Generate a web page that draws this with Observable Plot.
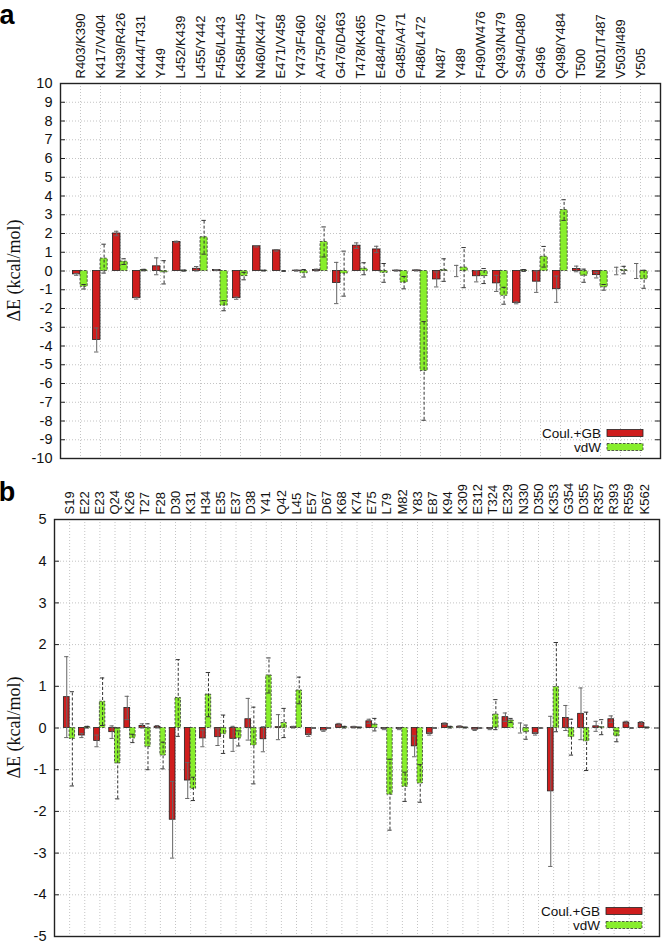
<!DOCTYPE html>
<html>
<head>
<meta charset="utf-8">
<script src="https://cdn.jsdelivr.net/npm/d3@7"></script>
<script src="https://cdn.jsdelivr.net/npm/@observablehq/plot@0.6"></script>
<style>
  html, body { margin: 0; padding: 0; background: #fff; }
  #chart svg { display: block; }
</style>
</head>
<body>
<div id="chart"></div>
<script>
// ---- Panel a data ----
const namesA = ["R403/K390","K417/V404","N439/R426","K444/T431","Y449","L452/K439","L455/Y442","F456/L443","K458/H445","N460/K447","E471/V458","Y473/F460","A475/P462","G476/D463","T478/K465","E484/P470","G485/A471","F486/L472","N487","Y489","F490/W476","Q493/N479","S494/D480","G496","Q498/Y484","T500","N501/T487","V503/I489","Y505"];
const coulA    = [-0.18,-3.68,2.0,-1.45,0.25,1.55,0.12,0.05,-1.45,1.32,1.1,0.02,0.05,-0.64,1.35,1.15,0.02,0.03,-0.45,0.0,-0.28,-0.66,-1.7,-0.57,-0.97,0.11,-0.22,0.0,0.0];
const coulErrA = [0.05,0.64,0.12,0.05,0.45,0.04,0.12,0.03,0.06,0.04,0.04,0.03,0.05,1.1,0.15,0.17,0.03,0.03,0.4,0.3,0.3,0.43,0.05,0.57,0.7,0.15,0.15,0.2,0.4];
const vdwA     = [-0.84,0.66,0.5,0.05,-0.07,0.02,1.8,-1.85,-0.27,0.02,0.0,-0.12,1.55,-0.14,0.12,-0.1,-0.62,-5.33,0.05,0.18,-0.27,-1.32,0.03,0.76,3.25,-0.25,-0.87,0.05,-0.44];
const vdwErrA  = [0.12,0.77,0.15,0.04,0.62,0.03,0.9,0.27,0.2,0.02,0.02,0.2,0.8,1.2,0.32,0.5,0.33,2.63,0.6,1.07,0.4,0.45,0.05,0.55,0.55,0.35,0.15,0.2,0.48];

// ---- Panel b data ----
const namesB = ["S19","E22","E23","Q24","K26","T27","F28","D30","K31","H34","E35","E37","D38","Y41","Q42","L45","E57","D67","K68","K74","E75","L79","M82","Y83","E87","K94","K309","E312","T324","E329","N330","D350","K353","G354","D355","R357","R393","R559","K562"];
const coulB    = [0.74,-0.18,-0.31,-0.1,0.48,0.05,0.03,-2.2,-1.26,-0.25,-0.22,-0.26,0.21,-0.27,0.02,0.02,-0.17,-0.06,0.08,0.02,0.16,-0.02,-0.02,-0.44,-0.14,0.1,0.03,-0.04,-0.02,0.26,0.0,-0.14,-1.52,0.24,0.34,0.04,0.21,0.13,0.12];
const coulErrB = [0.97,0.05,0.14,0.15,0.28,0.05,0.03,0.92,0.43,0.2,0.2,0.3,0.5,0.3,0.3,0.02,0.03,0.02,0.03,0.02,0.05,0.02,0.02,0.25,0.03,0.02,0.02,0.02,0.02,0.1,0.12,0.03,1.8,0.3,0.62,0.12,0.08,0.03,0.03];
const vdwB     = [-0.26,0.02,0.63,-0.85,-0.25,-0.45,-0.66,0.72,-1.46,0.8,-0.15,-0.25,-0.42,1.26,0.12,0.9,0,0,0.02,0.01,0.08,-1.6,-1.41,-1.33,0,0.02,0.01,0,0.32,0.18,-0.1,0,0.98,-0.22,-0.32,0.02,-0.2,0,0.01];
const vdwErrB  = [1.13,0.02,0.57,0.85,0.1,0.55,0.32,0.92,0.28,0.53,0.46,0.18,0.92,0.42,0.35,0.32,0,0,0.02,0.01,0.15,0.85,0.35,0.45,0,0.02,0.01,0,0.36,0.05,0.17,0,1.07,0.43,0.7,0.18,0.13,0,0.01];

const seriesNames = ["Coul.+GB", "vdW"];
const RED = "#cf1d1d", GREEN = "#88ee2c";

function panel(cfg) {
  const {names, coul, coulErr, vdw, vdwErr, yMax, xDomain, height, marginTop, marginBottom, marginLeft, marginRight, letter, letterY, capHalf, tickLen} = cfg;
  const rows = names.map((n, i) => ({i, n, c: coul[i], ce: coulErr[i], v: vdw[i], ve: vdwErr[i]}));
  const yt = d3.range(-yMax, yMax + 1);
  const wR = 0.38, wG = 0.36;
  const cx = d => d.i - wR / 2, vx = d => d.i + wG / 2;
  const ends = rows.flatMap(d => [
    {x: cx(d), y: d.c - d.ce, s: 0}, {x: cx(d), y: d.c + d.ce, s: 0},
    {x: vx(d), y: d.v - d.ve, s: 1}, {x: vx(d), y: d.v + d.ve, s: 1}
  ]);
  const [x0, x1] = xDomain;
  const svg = Plot.plot({
    width: 664, height, marginTop, marginBottom, marginLeft, marginRight,
    x: {domain: xDomain, axis: null},
    y: {domain: [-yMax, yMax], axis: null},
    style: {fontFamily: "'Liberation Sans', Arial, sans-serif", overflow: "visible", background: "white", color: "#111"},
    marks: [
      Plot.gridY(yt.slice(1, -1), {stroke: "#c4c4c4", strokeOpacity: 1, strokeDasharray: "1,2"}),
      Plot.gridX(rows.map(d => d.i), {stroke: "#c4c4c4", strokeOpacity: 1, strokeDasharray: "1,2"}),
      Plot.rect(rows, {x1: d => d.i - wR, x2: d => d.i, y1: 0, y2: "c", fill: RED, stroke: "#222", strokeWidth: 0.8}),
      Plot.rect(rows, {x1: d => d.i, x2: d => d.i + wG, y1: 0, y2: "v", fill: GREEN, stroke: "#333", strokeWidth: 0.8, strokeDasharray: "2.5,1.5"}),
      Plot.ruleX(rows, {x: cx, y1: d => d.c - d.ce, y2: d => d.c + d.ce, stroke: "#666", strokeWidth: 1}),
      Plot.ruleX(rows, {x: vx, y1: d => d.v - d.ve, y2: d => d.v + d.ve, stroke: "#333", strokeWidth: 1, strokeDasharray: "3,2"}),
      Plot.ruleY(ends, {y: "y", x1: d => d.x - capHalf, x2: d => d.x + capHalf, stroke: d => d.s ? "#333" : "#666", strokeWidth: 1}),
      Plot.ruleY(yt.slice(1, -1), {y: d => d, x1: x0, x2: x0 + tickLen, stroke: "#222"}),
      Plot.ruleY(yt.slice(1, -1), {y: d => d, x1: x1 - tickLen, x2: x1, stroke: "#222"}),
      Plot.frame({stroke: "#222", strokeWidth: 1.4}),
      Plot.axisY(yt, {anchor: "left", tickSize: 0, tickPadding: 8, fontSize: 14.5, tickFormat: d => String(d)}),
      Plot.axisX(rows.map(d => d.i), {anchor: "top", tickSize: 0, tickPadding: 5, tickRotate: -90, fontSize: 13, tickFormat: i => names[i]})
    ]
  });
  const s = d3.select(svg);
  const H = height, fb = H - marginBottom, ft = marginTop, fr = 664 - marginRight;
  // y label
  s.append("text")
    .attr("transform", `translate(20,${(ft + fb) / 2}) rotate(-90)`)
    .attr("text-anchor", "middle")
    .attr("font-family", "'Liberation Serif', 'Times New Roman', serif")
    .attr("font-size", 18).attr("fill", "#111")
    .text("ΔE (kcal/mol)");
  // panel letter
  s.append("text").attr("x", 7).attr("y", letterY)
    .attr("font-family", "'Liberation Sans', Arial, sans-serif")
    .attr("font-weight", "bold").attr("font-size", 27).attr("fill", "#000")
    .text(letter);
  // legend
  const lg = s.append("g").attr("font-family", "'Liberation Sans', Arial, sans-serif").attr("font-size", 13.5).attr("fill", "#111");
  const rowsY = [fb - 25, fb - 11];
  seriesNames.forEach((name, k) => {
    lg.append("text").attr("x", fr - 59).attr("y", rowsY[k]).attr("dy", "0.35em").attr("text-anchor", "end").text(name);
    lg.append("rect").attr("x", fr - 53).attr("y", rowsY[k] - 3.5).attr("width", 36).attr("height", 7)
      .attr("fill", k ? GREEN : RED).attr("stroke", k ? "#333" : "#222").attr("stroke-width", 0.8)
      .attr("stroke-dasharray", k ? "2.5,1.5" : null);
  });
  return svg;
}

const root = document.getElementById("chart");
root.append(panel({
  names: namesA, coul: coulA, coulErr: coulErrA, vdw: vdwA, vdwErr: vdwErrA,
  yMax: 10, xDomain: [-1, 29], height: 462, marginTop: 83, marginBottom: 4, marginLeft: 60, marginRight: 4,
  letter: "a", letterY: 24, capHalf: 0.11, tickLen: 0.25
}));
root.append(panel({
  names: namesB, coul: coulB, coulErr: coulErrB, vdw: vdwB, vdwErr: vdwErrB,
  yMax: 5, xDomain: [-1, 39], height: 481, marginTop: 57, marginBottom: 7, marginLeft: 54, marginRight: 5,
  letter: "b", letterY: 39, capHalf: 0.14, tickLen: 0.33
}));
</script>
</body>
</html>
